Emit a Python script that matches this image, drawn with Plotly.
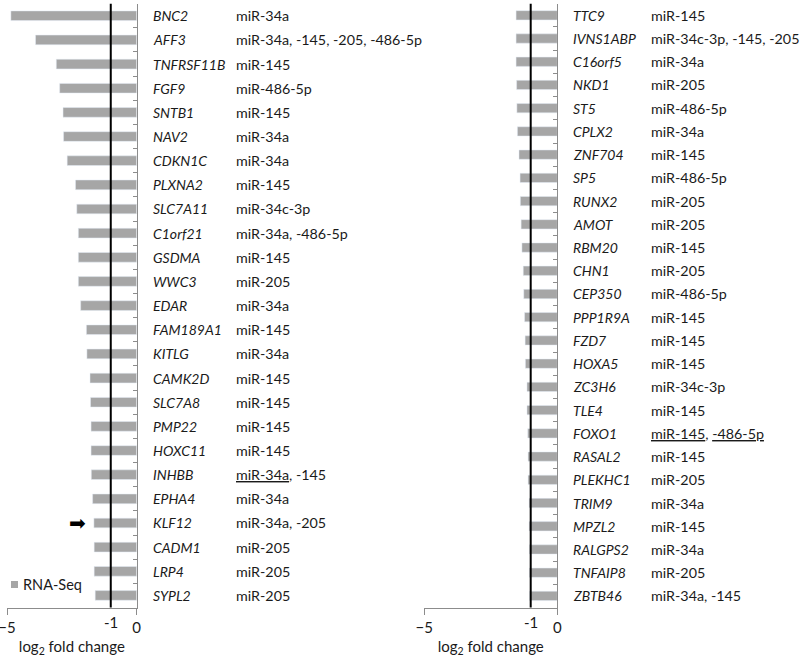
import plotly.graph_objects as go

# --- Data: left panel ---
genes_left = ["BNC2", "AFF3", "TNFRSF11B", "FGF9", "SNTB1", "NAV2", "CDKN1C", "PLXNA2",
              "SLC7A11", "C1orf21", "GSDMA", "WWC3", "EDAR", "FAM189A1", "KITLG", "CAMK2D",
              "SLC7A8", "PMP22", "HOXC11", "INHBB", "EPHA4", "KLF12", "CADM1", "LRP4", "SYPL2"]
fc_left = [-4.85, -3.90, -3.10, -2.97, -2.84, -2.82, -2.68, -2.36,
           -2.31, -2.25, -2.25, -2.25, -2.16, -1.94, -1.92, -1.80,
           -1.78, -1.76, -1.76, -1.75, -1.70, -1.65, -1.64, -1.64, -1.60]
mir_left = ["miR-34a", "miR-34a, -145, -205, -486-5p", "miR-145", "miR-486-5p", "miR-145",
            "miR-34a", "miR-34a", "miR-145", "miR-34c-3p", "miR-34a, -486-5p", "miR-145",
            "miR-205", "miR-34a", "miR-145", "miR-34a", "miR-145", "miR-145", "miR-145",
            "miR-145", "<u>miR-34a</u>, -145", "miR-34a", "miR-34a, -205", "miR-205",
            "miR-205", "miR-205"]

# --- Data: right panel ---
genes_right = ["TTC9", "IVNS1ABP", "C16orf5", "NKD1", "ST5", "CPLX2", "ZNF704", "SP5",
               "RUNX2", "AMOT", "RBM20", "CHN1", "CEP350", "PPP1R9A", "FZD7", "HOXA5",
               "ZC3H6", "TLE4", "FOXO1", "RASAL2", "PLEKHC1", "TRIM9", "MPZL2", "RALGPS2",
               "TNFAIP8", "ZBTB46"]
fc_right = [-1.55, -1.55, -1.55, -1.53, -1.52, -1.50, -1.44, -1.40,
            -1.39, -1.36, -1.33, -1.28, -1.26, -1.23, -1.21, -1.20,
            -1.14, -1.14, -1.11, -1.10, -1.10, -1.06, -1.06, -1.05,
            -1.05, -1.04]
mir_right = ["miR-145", "miR-34c-3p, -145, -205", "miR-34a", "miR-205", "miR-486-5p",
             "miR-34a", "miR-145", "miR-486-5p", "miR-205", "miR-205", "miR-145", "miR-205",
             "miR-486-5p", "miR-145", "miR-145", "miR-145", "miR-34c-3p", "miR-145",
             "<u>miR-145</u>, <u>-486-5p</u>", "miR-145", "miR-205", "miR-34a", "miR-145",
             "miR-34a", "miR-205", "miR-34a, -145"]

x_ticks = [-5, 0]
threshold = -1
marked_gene = "KLF12"
series_name = "RNA-Seq"

BAR_COLOR = "#a6a6a6"
AXIS_COLOR = "#8c8c8c"
FONT = "Lato, 'Open Sans', sans-serif"
TXT = "#1a1a1a"

fig = go.Figure()
fig.add_trace(go.Bar(x=fc_left, y=genes_left, orientation="h", width=0.4,
                     marker_color=BAR_COLOR, name=series_name, showlegend=False,
                     xaxis="x", yaxis="y"))
fig.add_trace(go.Bar(x=fc_right, y=genes_right, orientation="h", width=0.4,
                     marker_color=BAR_COLOR, name=series_name, showlegend=False,
                     xaxis="x2", yaxis="y2"))

ydom = [0.0753, 0.9944]
xcommon = dict(range=[-5, 0], tickvals=x_ticks, ticks="outside", ticklen=6,
               tickcolor=AXIS_COLOR, showline=True, linecolor=AXIS_COLOR, linewidth=1,
               showgrid=False, zeroline=False, fixedrange=True, automargin=False,
               ticklabeloverflow="allow",
               tickfont=dict(size=15, color=TXT, family=FONT),
               title=dict(text="log<sub>2</sub> fold change", standoff=7,
                          font=dict(size=15, color=TXT, family=FONT)))
ycommon = dict(autorange="reversed", side="right", showline=True, linecolor=AXIS_COLOR,
               linewidth=1, ticks="inside", tickson="boundaries", ticklen=4,
               tickcolor=AXIS_COLOR, showticklabels=False, showgrid=False, domain=ydom,
               automargin=False, fixedrange=True)

fig.update_layout(
    width=800, height=657,
    margin=dict(l=0, r=0, t=0, b=0, autoexpand=False),
    plot_bgcolor="white", paper_bgcolor="white",
    showlegend=False,
    xaxis=dict(domain=[7 / 800, 136.7 / 800], anchor="y", **xcommon),
    yaxis=dict(anchor="x", categoryorder="array", categoryarray=genes_left, **ycommon),
    xaxis2=dict(domain=[424.3 / 800, 557.3 / 800], anchor="y2", **xcommon),
    yaxis2=dict(anchor="x2", categoryorder="array", categoryarray=genes_right, **ycommon),
    font=dict(family=FONT, color=TXT),
)

# threshold lines at -1
for xr, yr in [("x", "y"), ("x2", "y2")]:
    fig.add_shape(type="line", xref=xr, yref=f"{yr} domain", x0=threshold, x1=threshold,
                  y0=0, y1=1, line=dict(color="black", width=2))
    fig.add_annotation(xref=xr, yref="paper", x=threshold, y=1 - 622 / 657, text="-1",
                       showarrow=False, xanchor="center", yanchor="middle",
                       font=dict(size=15, color=TXT, family=FONT))

# gene names and miRNA labels
def add_labels(genes, mirs, yref, xg, xm):
    for g, m in zip(genes, mirs):
        fig.add_annotation(xref="paper", yref=yref, x=xg, y=g, text=f"<i>{g}</i>",
                           showarrow=False, xanchor="left", yanchor="middle",
                           font=dict(size=14, color=TXT, family=FONT))
        fig.add_annotation(xref="paper", yref=yref, x=xm, y=g, text=m,
                           showarrow=False, xanchor="left", yanchor="middle",
                           font=dict(size=14.3, color=TXT, family=FONT))

add_labels(genes_left, mir_left, "y", 151 / 800, 234 / 800)
add_labels(genes_right, mir_right, "y2", 571 / 800, 649 / 800)

# legend key (series swatch + name) in the lower-left corner of the left panel
fig.add_shape(type="rect", xref="paper", yref="paper",
              x0=11 / 800, x1=18 / 800, y0=1 - 588 / 657, y1=1 - 581 / 657,
              fillcolor=BAR_COLOR, line_width=0)
fig.add_annotation(xref="paper", yref="paper", x=21 / 800, y=1 - 584.5 / 657,
                   text=series_name, showarrow=False, xanchor="left", yanchor="middle",
                   font=dict(size=14.5, color=TXT, family=FONT))

# block arrow marking KLF12
fig.add_annotation(xref="x", yref="y", x=-2.3, y=marked_gene, text="➡",
                   showarrow=False, font=dict(size=20, color="black", family="DejaVu Sans"))

fig.write_html("out.html", config={"displayModeBar": False},
               post_script="document.body.style.margin='0';")
